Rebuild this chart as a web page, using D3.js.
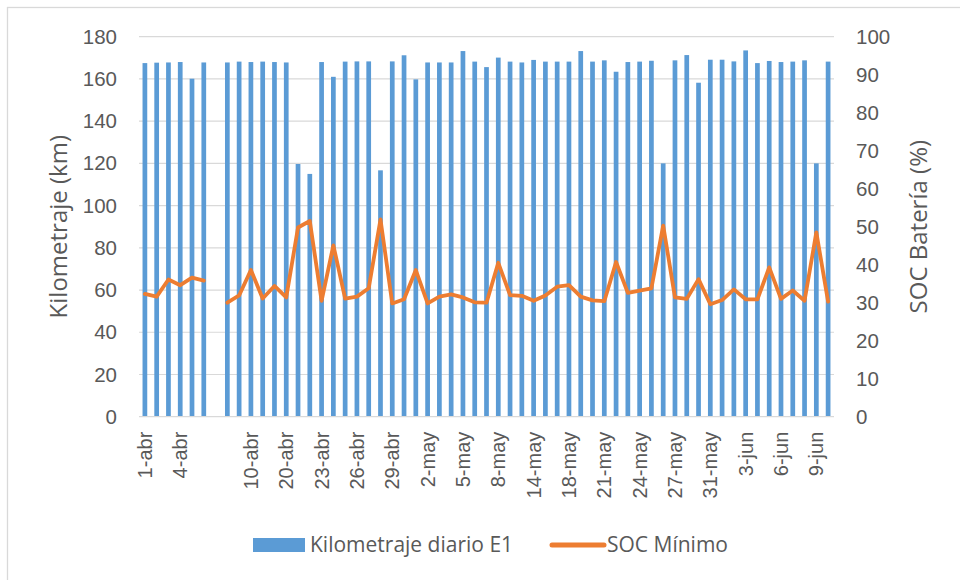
<!doctype html>
<html lang="es">
<head>
<meta charset="utf-8"/>
<title>Kilometraje diario y SOC mínimo</title>
<script src="https://d3js.org/d3.v7.min.js"></script>
<style>
  body { margin: 0; background: #fff; }
  svg { font-family: "Open Sans", "Noto Sans", sans-serif; }
  .tick text { fill: #595959; }
</style>
</head>
<body>
<svg id="chart"></svg>
<script>
    // categorías (solo se rotula una de cada tres)
    const categories = [
        "1-abr", "2-abr", "3-abr", "4-abr", "5-abr", "6-abr", "", "8-abr", "9-abr",
        "10-abr", "11-abr", "12-abr", "20-abr", "21-abr", "22-abr", "23-abr", "24-abr", "25-abr",
        "26-abr", "27-abr", "28-abr", "29-abr", "30-abr", "1-may", "2-may", "3-may", "4-may",
        "5-may", "6-may", "7-may", "8-may", "9-may", "10-may", "14-may", "15-may", "16-may",
        "18-may", "19-may", "20-may", "21-may", "22-may", "23-may", "24-may", "25-may", "26-may",
        "27-may", "28-may", "29-may", "31-may", "1-jun", "2-jun", "3-jun", "4-jun", "5-jun",
        "6-jun", "7-jun", "8-jun", "9-jun", "10-jun"
    ];

    const kmDiario = [
        167.5, 167.7, 167.8, 168, 160.1, 167.8, null, 167.8, 168.2,
        168, 168.2, 168, 167.8, 119.7, 115, 168, 161, 168.2,
        168.3, 168.3, 116.7, 168.3, 171.2, 159.8, 167.8, 167.8, 167.8,
        173.2, 168.2, 165.6, 170.1, 168.2, 167.8, 169, 168.2, 168.2,
        168.2, 173.2, 168.2, 168.8, 163.4, 168, 168.2, 168.6, 120,
        168.8, 171.3, 158.2, 169.1, 169.1, 168.3, 173.5, 167.5, 168.5,
        168, 168.2, 168.8, 120, 168.2
    ];

    const socMinimo = [
        32.3, 31.6, 36.1, 34.6, 36.6, 35.8, null, 30.0, 31.9,
        38.6, 31.1, 34.4, 31.4, 49.8, 51.5, 30.5, 45.1, 31.1,
        31.6, 33.8, 51.9, 29.8, 30.9, 38.6, 29.8, 31.6, 32.2,
        31.4, 30.1, 30.0, 40.5, 32.0, 31.8, 30.5, 31.9, 34.2,
        34.6, 31.6, 30.6, 30.4, 40.7, 32.6, 33.2, 33.8, 50.3,
        31.4, 31.0, 36.2, 29.6, 30.7, 33.5, 30.9, 30.9, 39.3,
        31.0, 33.2, 30.5, 48.5, 30.3
    ];

    const kmTicks = [0, 20, 40, 60, 80, 100, 120, 140, 160, 180];
    const socTicks = [0, 10, 20, 30, 40, 50, 60, 70, 80, 90, 100];

    const width = 960, height = 580;
    const margin = {top: 36.7, right: 126, bottom: 163.3, left: 139};
    const innerW = width - margin.left - margin.right;
    const innerH = height - margin.top - margin.bottom;

    const svg = d3.select("#chart")
        .attr("width", width)
        .attr("height", height);

    // borde del área de gráfico
    svg.append("rect")
        .attr("x", 7.5).attr("y", 7.5)
        .attr("width", 1000).attr("height", 1000)
        .attr("fill", "none")
        .attr("stroke", "#d9d9d9")
        .attr("stroke-width", 1.3);

    const g = svg.append("g")
        .attr("transform", `translate(${margin.left},${margin.top})`);

    const x = d3.scaleBand()
        .domain(d3.range(categories.length))
        .range([0, innerW])
        .paddingInner(0.6)
        .paddingOuter(0.3);

    const yKm = d3.scaleLinear().domain([0, 180]).range([innerH, 0]);
    const ySoc = d3.scaleLinear().domain([0, 100]).range([innerH, 0]);

    // rejilla
    g.append("g")
        .selectAll("line")
        .data(kmTicks.slice(1))
        .join("line")
        .attr("x1", 0).attr("x2", innerW)
        .attr("y1", d => yKm(d)).attr("y2", d => yKm(d))
        .attr("stroke", "#d9d9d9")
        .attr("stroke-width", 1.2);

    // barras
    g.append("g")
        .selectAll("rect")
        .data(kmDiario.map((v, i) => ({i, v})).filter(d => d.v != null))
        .join("rect")
        .attr("x", d => x(d.i))
        .attr("width", x.bandwidth())
        .attr("y", d => yKm(d.v))
        .attr("height", d => innerH - yKm(d.v))
        .attr("fill", "#5b9bd5");

    // eje x
    g.append("line")
        .attr("x1", 0).attr("x2", innerW)
        .attr("y1", innerH).attr("y2", innerH)
        .attr("stroke", "#d9d9d9")
        .attr("stroke-width", 1.3);

    const xAxis = g.append("g")
        .attr("transform", `translate(0,${innerH})`)
        .call(d3.axisBottom(x)
            .tickValues(d3.range(0, categories.length, 3))
            .tickFormat(i => categories[i])
            .tickSize(0));
    xAxis.select(".domain").remove();
    xAxis.selectAll("text")
        .attr("font-size", 20)
        .attr("transform", "rotate(-90)")
        .attr("text-anchor", "end")
        .attr("dy", "0.35em")
        .attr("x", -15)
        .attr("y", 0);

    // ejes y
    const yLeft = g.append("g")
        .call(d3.axisLeft(yKm).tickValues(kmTicks).tickSize(0).tickPadding(22));
    yLeft.select(".domain").remove();
    yLeft.selectAll("text").attr("font-size", 20.5);

    const yRight = g.append("g")
        .attr("transform", `translate(${innerW},0)`)
        .call(d3.axisRight(ySoc).tickValues(socTicks).tickSize(0).tickPadding(22));
    yRight.select(".domain").remove();
    yRight.selectAll("text").attr("font-size", 20.5);

    // línea SOC
    const line = d3.line()
        .defined(d => d != null)
        .x((d, i) => x(i) + x.bandwidth() / 2)
        .y(d => ySoc(d));

    g.append("path")
        .datum(socMinimo)
        .attr("d", line)
        .attr("fill", "none")
        .attr("stroke", "#ed7d31")
        .attr("stroke-width", 3.8)
        .attr("stroke-linejoin", "round")
        .attr("stroke-linecap", "round");

    // títulos de ejes
    svg.append("text")
        .attr("transform", `translate(67,${margin.top + innerH / 2}) rotate(-90)`)
        .attr("text-anchor", "middle")
        .attr("font-size", 24)
        .attr("fill", "#595959")
        .text("Kilometraje (km)");

    svg.append("text")
        .attr("transform", `translate(927,${margin.top + innerH / 2}) rotate(-90)`)
        .attr("text-anchor", "middle")
        .attr("font-size", 24)
        .attr("fill", "#595959")
        .text("SOC Batería (%)");

    // leyenda
    const legend = svg.append("g").attr("transform", "translate(0,545)");
    legend.append("rect")
        .attr("x", 253).attr("y", -7)
        .attr("width", 52).attr("height", 14)
        .attr("fill", "#5b9bd5");
    legend.append("text")
        .attr("x", 310).attr("y", 0).attr("dy", "0.35em")
        .attr("font-size", 21)
        .attr("fill", "#595959")
        .text("Kilometraje diario E1");
    legend.append("line")
        .attr("x1", 552).attr("x2", 604)
        .attr("y1", 0).attr("y2", 0)
        .attr("stroke", "#ed7d31")
        .attr("stroke-width", 5)
        .attr("stroke-linecap", "round");
    legend.append("text")
        .attr("x", 607).attr("y", 0).attr("dy", "0.35em")
        .attr("font-size", 21)
        .attr("fill", "#595959")
        .text("SOC Mínimo");
</script>
</body>
</html>
